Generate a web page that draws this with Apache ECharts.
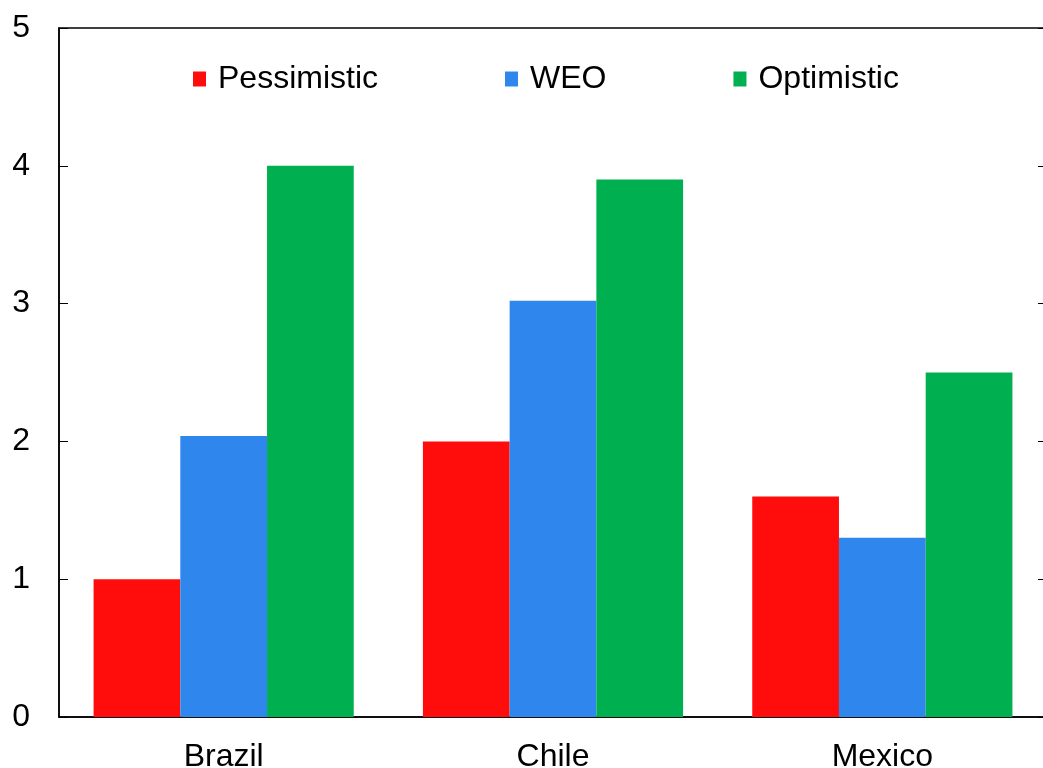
<!DOCTYPE html>
<html>
<head>
<meta charset="utf-8">
<script src="https://cdn.jsdelivr.net/npm/echarts@6/dist/echarts.min.js"></script>
<style>
  html, body { margin: 0; padding: 0; background: #fff; }
  #chart { width: 1043px; height: 768px; }
</style>
</head>
<body>
<div id="chart"></div>
<script>
// Categories and scenario values
const countries = ['Brazil', 'Chile', 'Mexico'];
const pessimistic = [1.0, 2.0, 1.6];
const weo = [2.04, 3.02, 1.3];
const optimistic = [4.0, 3.9, 2.5];
const yTicks = [0, 1, 2, 3, 4, 5];

const FONT = '"Liberation Sans", Arial, sans-serif';
const chart = echarts.init(document.getElementById('chart'), null, { renderer: 'canvas' });

const barSeries = (name, data, color) => ({
  name, type: 'bar', data,
  itemStyle: { color },
  barGap: '0%',
  barCategoryGap: '21%',
  emphasis: { disabled: true }
});

chart.setOption({
  animation: false,
  backgroundColor: '#fff',
  textStyle: { fontFamily: FONT },
  grid: {
    left: 59, right: -4, top: 28, bottom: 51,
    outerBoundsMode: 'none', containLabel: false,
    show: true, borderColor: '#000', borderWidth: 1.5, backgroundColor: 'transparent'
  },
  legend: {
    data: ['Pessimistic', 'WEO', 'Optimistic'],
    left: 188, top: 58,
    icon: 'rect', itemWidth: 13, itemHeight: 15, itemGap: 127,
    textStyle: { fontFamily: FONT, fontSize: 32, color: '#000', padding: [0, 0, 0, 7] }
  },
  xAxis: {
    type: 'category', data: countries,
    axisLine: { lineStyle: { color: '#000', width: 1.5 } },
    axisTick: { inside: true, length: 8, lineStyle: { color: '#000' } },
    axisLabel: { fontFamily: FONT, fontSize: 32, color: '#000', margin: 24 }
  },
  yAxis: [{
    type: 'value', min: yTicks[0], max: yTicks[yTicks.length - 1], interval: 1,
    axisLine: { show: true, lineStyle: { color: '#000', width: 1.5 } },
    axisTick: { show: true, inside: true, length: 9, lineStyle: { color: '#000' } },
    axisLabel: { fontFamily: FONT, fontSize: 32, color: '#000', margin: 29 },
    splitLine: { show: false }
  }, {
    type: 'value', position: 'right', min: yTicks[0], max: yTicks[yTicks.length - 1], interval: 1,
    axisLine: { show: true, lineStyle: { color: '#000', width: 1.5 } },
    axisTick: { show: true, inside: true, length: 9, lineStyle: { color: '#000' } },
    axisLabel: { show: false },
    splitLine: { show: false }
  }],
  series: [
    barSeries('Pessimistic', pessimistic, '#FF0D0D'),
    barSeries('WEO', weo, '#2F86ED'),
    barSeries('Optimistic', optimistic, '#00B050')
  ]
});
</script>
</body>
</html>
